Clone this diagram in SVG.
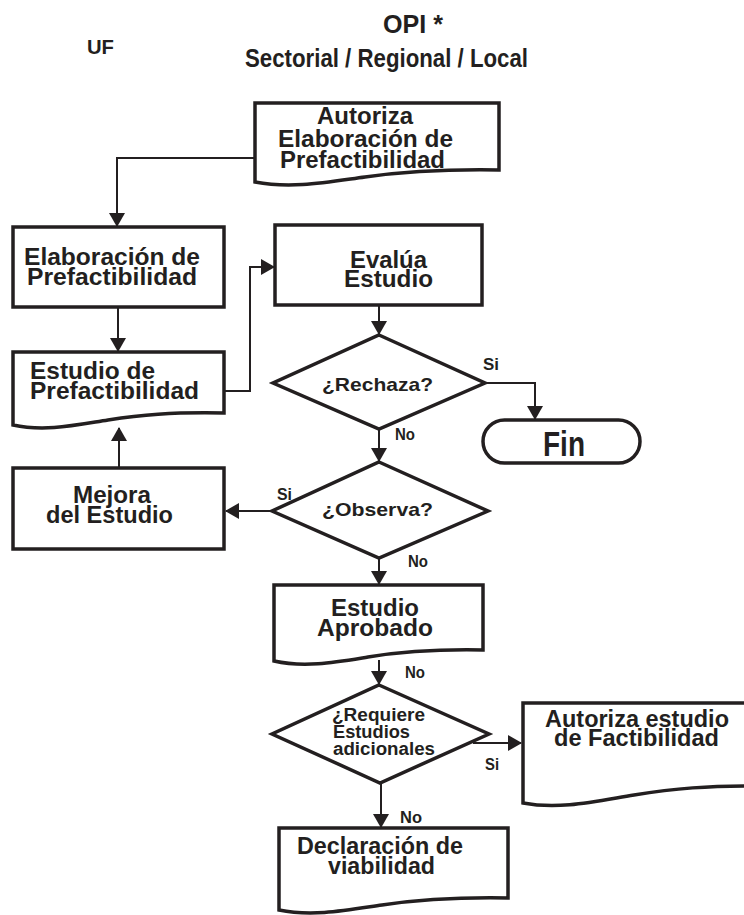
<svg xmlns="http://www.w3.org/2000/svg" width="744" height="915" viewBox="0 0 744 915">
<style>
text{font-family:"Liberation Sans",Arial,sans-serif;font-weight:bold;fill:#231f20}
.t{font-size:24px}
.d{font-size:19px}
.l{font-size:17px}
.h{font-size:25px}
.shape{fill:#fff;stroke:#231f20;stroke-width:3.5;stroke-linejoin:miter}
.conn{fill:none;stroke:#231f20;stroke-width:2}
</style>
<defs>
<marker id="ah" markerUnits="userSpaceOnUse" markerWidth="14" markerHeight="16" refX="13" refY="8" orient="auto">
<path d="M0,0 L14,8 L0,16 Z" fill="#231f20"/>
</marker>
</defs>
<rect width="744" height="915" fill="#fff"/>
<g id="headers">
<text x="87" y="54" style="font-size:20px" textLength="27" lengthAdjust="spacingAndGlyphs">UF</text>
<text class="h" x="383" y="33" textLength="60" lengthAdjust="spacingAndGlyphs">OPI *</text>
<text class="h" x="245" y="67" textLength="283" lengthAdjust="spacingAndGlyphs">Sectorial / Regional / Local</text>
</g>
<g id="connectors">
<path class="conn" d="M255,158 H117 V226" marker-end="url(#ah)"/>
<path class="conn" d="M118,307 V351" marker-end="url(#ah)"/>
<path class="conn" d="M224,391 H250 V267 H274" marker-end="url(#ah)"/>
<path class="conn" d="M379,305 V334" marker-end="url(#ah)"/>
<path class="conn" d="M485,383 H535 V419" marker-end="url(#ah)"/>
<path class="conn" d="M379,429 V461" marker-end="url(#ah)"/>
<path class="conn" d="M272,511 H226" marker-end="url(#ah)"/>
<path class="conn" d="M379,558 V584" marker-end="url(#ah)"/>
<path class="conn" d="M119,468 V428" marker-end="url(#ah)"/>
<path class="conn" d="M379,660 V684" marker-end="url(#ah)"/>
<path class="conn" d="M473,743 H521" marker-end="url(#ah)"/>
<path class="conn" d="M381,783 V827" marker-end="url(#ah)"/>
</g>
<g id="autoriza-elaboracion">
<path class="shape" d="M255,103 H499 V170 C438,169 401,172 365,177 C328,182 292,189 255,182 Z"/>
<text class="t" x="317" y="124" textLength="96" lengthAdjust="spacingAndGlyphs">Autoriza</text>
<text class="t" x="278" y="147" textLength="175" lengthAdjust="spacingAndGlyphs">Elaboración de</text>
<text class="t" x="280" y="168" textLength="165" lengthAdjust="spacingAndGlyphs">Prefactibilidad</text>
</g>
<g id="elaboracion">
<rect class="shape" x="13" y="227" width="211" height="80"/>
<text class="t" x="24" y="265" textLength="176" lengthAdjust="spacingAndGlyphs">Elaboración de</text>
<text class="t" x="27" y="285" textLength="170" lengthAdjust="spacingAndGlyphs">Prefactibilidad</text>
</g>
<g id="estudio-prefactibilidad">
<path class="shape" d="M13,352 H224 V413 C171,412 140,415 108,420 C76,425 45,432 13,425 Z"/>
<text class="t" x="30" y="379" textLength="125" lengthAdjust="spacingAndGlyphs">Estudio de</text>
<text class="t" x="30" y="399" textLength="169" lengthAdjust="spacingAndGlyphs">Prefactibilidad</text>
</g>
<g id="evalua">
<rect class="shape" x="275" y="225" width="207" height="80"/>
<text class="t" x="350" y="268" textLength="77" lengthAdjust="spacingAndGlyphs">Evalúa</text>
<text class="t" x="344" y="287" textLength="89" lengthAdjust="spacingAndGlyphs">Estudio</text>
</g>
<g id="rechaza">
<path class="shape" d="M379,335 L485,383 L379,429 L273,383 Z"/>
<text class="d" x="322" y="391" textLength="111" lengthAdjust="spacingAndGlyphs">¿Rechaza?</text>
</g>
<g id="fin">
<rect class="shape" x="483" y="420" width="157" height="43" rx="21.5"/>
<text x="543" y="456" style="font-size:35px" textLength="42" lengthAdjust="spacingAndGlyphs">Fin</text>
</g>
<g id="observa">
<path class="shape" d="M379,462 L488,511 L379,558 L272,511 Z"/>
<text class="d" x="322" y="516" textLength="111" lengthAdjust="spacingAndGlyphs">¿Observa?</text>
</g>
<g id="mejora">
<rect class="shape" x="13" y="468" width="211" height="81"/>
<text class="t" x="73" y="503" textLength="78" lengthAdjust="spacingAndGlyphs">Mejora</text>
<text class="t" x="46" y="523" textLength="127" lengthAdjust="spacingAndGlyphs">del Estudio</text>
</g>
<g id="estudio-aprobado">
<path class="shape" d="M274,585 H483 V650 C431,649 399,652 368,657 C337,662 305,668 274,661 Z"/>
<text class="t" x="331" y="616" textLength="88" lengthAdjust="spacingAndGlyphs">Estudio</text>
<text class="t" x="317" y="636" textLength="116" lengthAdjust="spacingAndGlyphs">Aprobado</text>
</g>
<g id="requiere">
<path class="shape" d="M379,685 L489,734 L380,783 L272,734 Z"/>
<text class="d" x="332" y="721" style="font-size:18px" textLength="93" lengthAdjust="spacingAndGlyphs">¿Requiere</text>
<text class="d" x="333" y="738" style="font-size:18px" textLength="77" lengthAdjust="spacingAndGlyphs">Estudios</text>
<text class="d" x="333" y="755" style="font-size:18px" textLength="102" lengthAdjust="spacingAndGlyphs">adicionales</text>
</g>
<g id="autoriza-factibilidad">
<path class="shape" d="M523,703 H770 V786 C708,785 671,789 634,795 C597,801 560,810 523,803 Z"/>
<text class="t" x="545" y="727" textLength="184" lengthAdjust="spacingAndGlyphs">Autoriza estudio</text>
<text class="t" x="554" y="746" textLength="165" lengthAdjust="spacingAndGlyphs">de Factibilidad</text>
</g>
<g id="declaracion">
<path class="shape" d="M279,828 H508 V898 C451,897 416,900 382,905 C348,910 313,917 279,910 Z"/>
<text class="t" x="297" y="854" textLength="166" lengthAdjust="spacingAndGlyphs">Declaración de</text>
<text class="t" x="328" y="874" textLength="107" lengthAdjust="spacingAndGlyphs">viabilidad</text>
</g>
<g id="labels">
<text class="l" x="483" y="370" textLength="16" lengthAdjust="spacingAndGlyphs">Si</text>
<text class="l" x="395" y="440" textLength="20" lengthAdjust="spacingAndGlyphs">No</text>
<text class="l" x="277" y="500" textLength="15" lengthAdjust="spacingAndGlyphs">Si</text>
<text class="l" x="408" y="567" textLength="20" lengthAdjust="spacingAndGlyphs">No</text>
<text class="l" x="405" y="678" textLength="20" lengthAdjust="spacingAndGlyphs">No</text>
<text class="l" x="485" y="770" textLength="14" lengthAdjust="spacingAndGlyphs">Si</text>
<text class="l" x="400" y="823" textLength="22" lengthAdjust="spacingAndGlyphs">No</text>
</g>
</svg>
